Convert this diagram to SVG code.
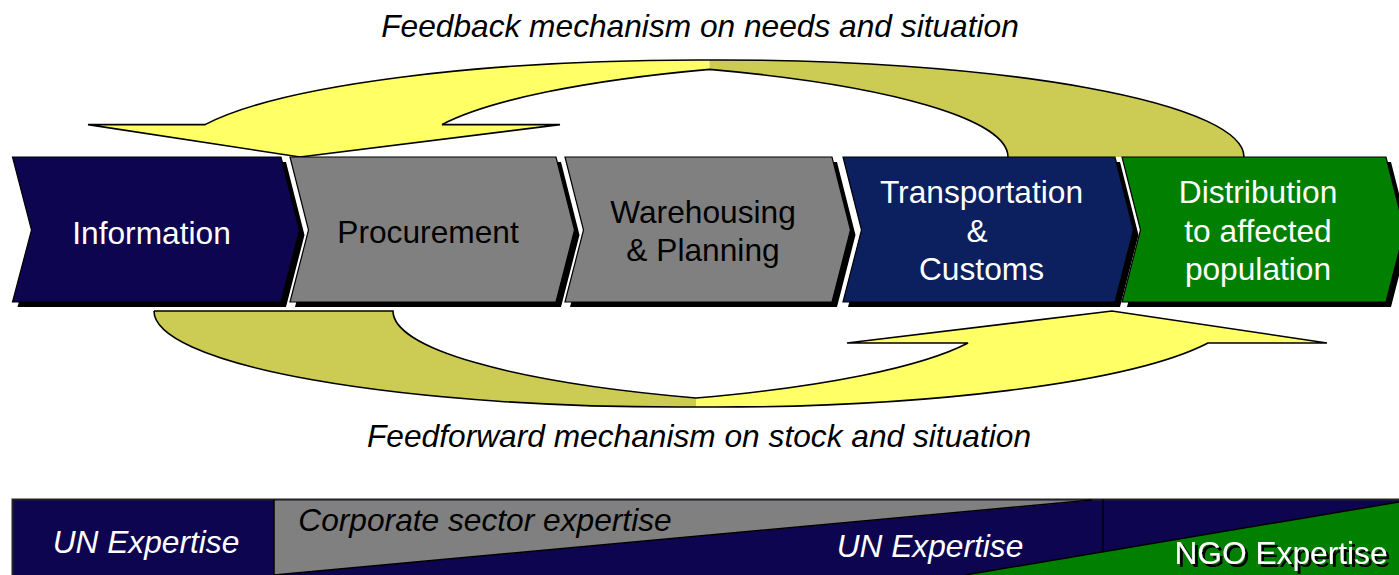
<svg xmlns="http://www.w3.org/2000/svg" width="1399" height="575" viewBox="0 0 1399 575">
<style>
.t{font-family:"Liberation Sans",Arial,sans-serif;font-size:31.7px;text-anchor:middle}
.w{fill:#ffffff}
.k{fill:#000000}
.i{font-style:italic}
.sh{fill:#000000}
.ch{stroke:#000000;stroke-width:1.2;stroke-linejoin:miter}
.ar{stroke:#000000;stroke-width:1.6;stroke-linejoin:miter;fill:none}
.y{fill:#FFFF66}
.o{fill:#CCCC55}
</style>
<defs>
  <filter id="tshadow" x="-5%" y="-20%" width="115%" height="150%">
    <feOffset in="SourceAlpha" dx="3" dy="3" result="off"/>
    <feFlood flood-color="#000000"/>
    <feComposite in2="off" operator="in" result="shadow"/>
    <feMerge><feMergeNode in="shadow"/><feMergeNode in="SourceGraphic"/></feMerge>
  </filter>
</defs>
<rect x="0" y="0" width="1399" height="575" fill="#ffffff"/>

<text class="t k i" x="700" y="37">Feedback mechanism on needs and situation</text>
<text class="t k i" x="699" y="447">Feedforward mechanism on stock and situation</text>

<g id="connectors">
  <g id="feedback-arrow">
    <path class="y" d="M300,157 L88,124.6 L205,124.6 A524 97 0 0 1 709.5,60 L709.5,69.4 A524 97 0 0 0 442,124.6 L560,124.6 Z"/>
    <path class="o" d="M709.5,60 A524 97 0 0 1 1244,157 L1008,157 A524 97 0 0 0 709.5,69.4 Z"/>
    <path class="ar" d="M442,124.6 L560,124.6 L300,157 L88,124.6 L205,124.6 A524 97 0 0 1 709.5,60 A524 97 0 0 1 1244,157"/>
    <path class="ar" d="M1008,157 A524 97 0 0 0 709.5,69.4 A524 97 0 0 0 442,124.6"/>
  </g>
  <g id="feedforward-arrow">
    <path class="o" d="M154,311 A524 96 0 0 0 696,407 L696,398 A524 96 0 0 1 393,311 Z"/>
    <path class="y" d="M1112,311 L1327,343 L1208,343 A524 96 0 0 1 696,407 L696,398 A524 96 0 0 0 968,343 L847,343 Z"/>
    <path class="ar" d="M154,311 L393,311 A524 96 0 0 0 696,398 A524 96 0 0 0 968,343 L847,343 L1112,311 L1327,343 L1208,343 A524 96 0 0 1 696,407 A524 96 0 0 1 154,311"/>
  </g>
</g>

<g id="node-information">
  <polygon class="sh" points="17.5,162 286,162 304.5,235 286,307 17.5,307 36.5,235"/>
  <polygon class="ch" fill="#0E0550" points="12.5,157 281,157 299.5,230 281,302 12.5,302 31.5,230"/>
  <text class="t w" x="151.5" y="244">Information</text>
</g>
<g id="node-procurement">
  <polygon class="sh" points="295,162 561,162 579.5,235 561,307 295,307 313.5,235"/>
  <polygon class="ch" fill="#808080" points="290,157 556,157 574.5,230 556,302 290,302 308.5,230"/>
  <text class="t k" x="428" y="243">Procurement</text>
</g>
<g id="node-warehousing">
  <polygon class="sh" points="570,162 837,162 855.5,235 837,307 570,307 588.5,235"/>
  <polygon class="ch" fill="#808080" points="565,157 832,157 850.5,230 832,302 565,302 583.5,230"/>
  <text class="t k" x="703" y="223">Warehousing</text>
  <text class="t k" x="703" y="261">&amp; Planning</text>
</g>
<g id="node-transportation">
  <polygon class="sh" points="848,162 1120,162 1138.5,235 1120,307 848,307 866.5,235"/>
  <polygon class="ch" fill="#0C1F5E" points="843,157 1115,157 1133.5,230 1115,302 843,302 861.5,230"/>
  <text class="t w" x="981.5" y="203">Transportation</text>
  <text class="t w" x="977" y="242">&amp;</text>
  <text class="t w" x="981.5" y="280">Customs</text>
</g>
<g id="node-distribution">
  <polygon class="sh" points="1127,162 1391,162 1409.5,235 1391,307 1127,307 1145.5,235"/>
  <polygon class="ch" fill="#007F00" points="1122,157 1386,157 1404.5,230 1386,302 1122,302 1140.5,230"/>
  <text class="t w" x="1258" y="203">Distribution</text>
  <text class="t w" x="1258" y="242">to affected</text>
  <text class="t w" x="1258" y="280">population</text>
</g>

<g id="expertise-bar">
  <rect x="12.5" y="499.5" width="1400" height="80" fill="#0E0550" stroke="#222222" stroke-width="2"/>
  <polygon points="274,500.5 1092,500.5 274,575" fill="#808080"/>
  <polygon points="965,575 1399,502 1399,575" fill="#007F00"/>
  <line x1="274" y1="575" x2="1092" y2="500" stroke="#000000" stroke-width="1.5"/>
  <line x1="965" y1="575" x2="1399" y2="502" stroke="#000000" stroke-width="1.5"/>
  <line x1="274" y1="499.5" x2="274" y2="575" stroke="#000000" stroke-width="1.5"/>
  <line x1="1103" y1="499.5" x2="1103" y2="552" stroke="#000000" stroke-width="1.5"/>
  <text class="t w i" x="146" y="553">UN Expertise</text>
  <text class="t k i" x="485" y="531">Corporate sector expertise</text>
  <text class="t w i" x="930" y="557">UN Expertise</text>
  <text class="t w" x="1281" y="564" filter="url(#tshadow)">NGO Expertise</text>
</g>
</svg>
